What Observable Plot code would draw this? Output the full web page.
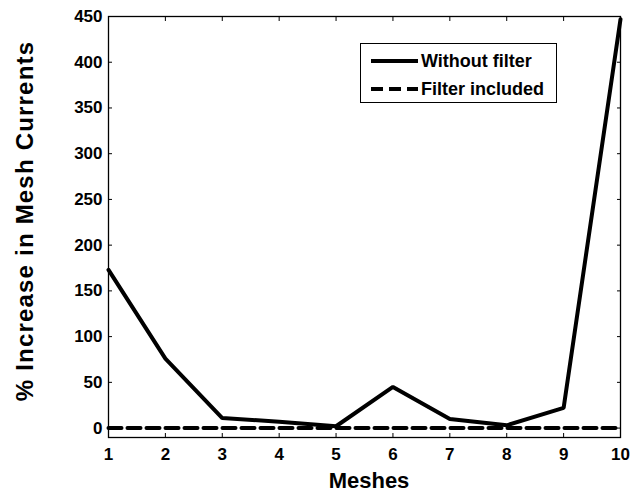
<!DOCTYPE html>
<html>
<head>
<meta charset="utf-8">
<script src="https://cdn.jsdelivr.net/npm/d3@7"></script>
<script src="https://cdn.jsdelivr.net/npm/@observablehq/plot@0.6"></script>
<style>
  html, body { margin: 0; padding: 0; background: #fff; }
  #wrap { position: relative; width: 641px; height: 493px; font-family: "Liberation Sans", Arial, sans-serif; }
  #legend { position: absolute; left: 360px; top: 43px; width: 197px; height: 60px; border: 1.3px solid #000; background: #fff; box-sizing: border-box; font-weight: bold; font-size: 18px; }
  #legend .row { position: absolute; left: 0; height: 20px; display: flex; align-items: center; white-space: nowrap; }
  #legend svg { display: block; }
</style>
</head>
<body>
<div id="wrap"></div>
<script>
const meshes = [1, 2, 3, 4, 5, 6, 7, 8, 9, 10];
const withoutFilter = [173, 76, 11, 7, 2, 45, 10, 3, 22, 447];
const filterIncluded = [0, 0, 0, 0, 0, 0, 0, 0, 0, 0];
const yTicks = [0, 50, 100, 150, 200, 250, 300, 350, 400, 450];
const seriesNames = ["Without filter", "Filter included"];

const rowsA = meshes.map((m, i) => ({mesh: m, value: withoutFilter[i]}));
const rowsB = meshes.map((m, i) => ({mesh: m, value: filterIncluded[i]}));

const font = "Liberation Sans, Arial, sans-serif";
const chart = Plot.plot({
  width: 641,
  height: 493,
  marginLeft: 108,
  marginRight: 21,
  marginTop: 16,
  marginBottom: 56,
  style: {fontFamily: font, fontWeight: "bold", fontSize: "17px", color: "#000", background: "#fff"},
  x: {domain: [1, 10]},
  y: {domain: [-10.3, 450]},
  marks: [
    Plot.axisX(meshes, {anchor: "bottom", tickSize: -4, tickPadding: 14, fontSize: 17, fontWeight: "bold", label: null}),
    Plot.axisX(meshes, {anchor: "top", tickSize: -4, tickFormat: () => "", label: null}),
    Plot.axisY(yTicks, {anchor: "left", tickSize: -4, tickPadding: 10, fontSize: 17, fontWeight: "bold", label: null}),
    Plot.axisY(yTicks, {anchor: "right", tickSize: -4, tickFormat: () => "", label: null}),
    Plot.frame({stroke: "#000", strokeWidth: 1.3}),
    Plot.line(rowsB, {x: "mesh", y: "value", stroke: "#000", strokeWidth: 4, strokeDasharray: "13,6"}),
    Plot.line(rowsA, {x: "mesh", y: "value", stroke: "#000", strokeWidth: 4, strokeLinejoin: "miter"})
  ]
});

const wrap = document.getElementById("wrap");
wrap.appendChild(chart);

const svg = d3.select(chart);
svg.append("text")
  .attr("x", 369).attr("y", 488)
  .attr("text-anchor", "middle")
  .attr("font-size", 22).attr("font-weight", "bold").attr("font-family", font)
  .text("Meshes");
svg.append("text")
  .attr("transform", "translate(33,221) rotate(-90)")
  .attr("text-anchor", "middle")
  .attr("font-size", 24).attr("font-weight", "bold").attr("font-family", font)
  .attr("letter-spacing", 1.2)
  .text("% Increase in Mesh Currents");

const legend = document.createElement("div");
legend.id = "legend";
seriesNames.forEach((name, i) => {
  const row = document.createElement("div");
  row.className = "row";
  row.style.top = (7 + i * 28) + "px";
  row.innerHTML = `<svg width="60" height="20"><line x1="10" x2="57" y1="10" y2="10" stroke="#000" stroke-width="4" ${i ? `stroke-dasharray="12,6"` : ""}/></svg><span>${name}</span>`;
  legend.appendChild(row);
});
wrap.appendChild(legend);
</script>
</body>
</html>
